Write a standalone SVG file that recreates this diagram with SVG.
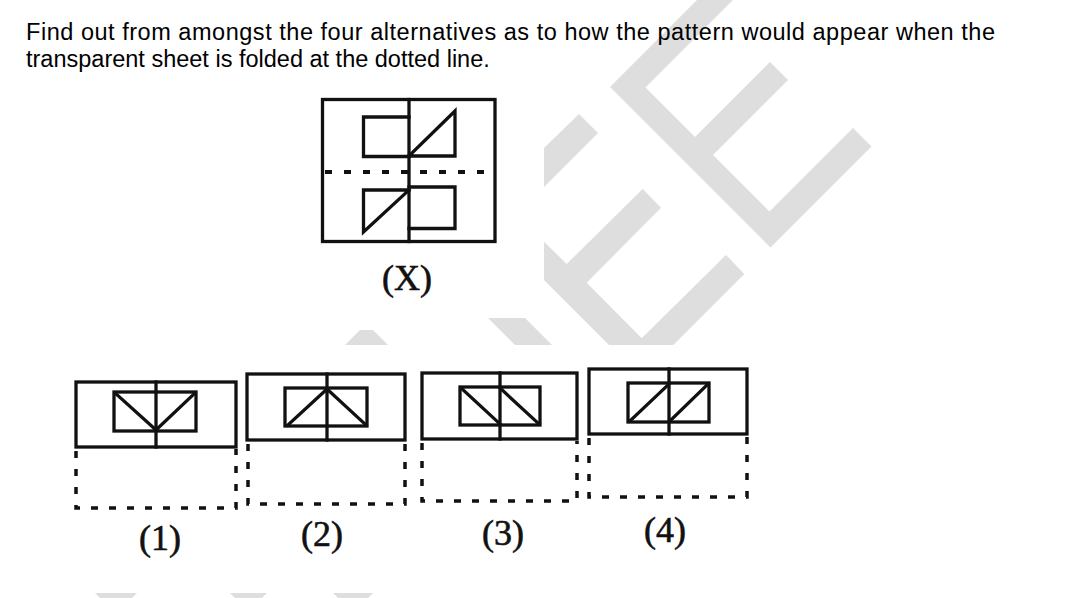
<svg xmlns="http://www.w3.org/2000/svg" width="1084" height="598" viewBox="0 0 1084 598">
  <style>
    .wm { fill: #dedede; stroke: none; }
    .ln { fill: none; stroke: #111; stroke-width: 3.3; stroke-linejoin: miter; stroke-linecap: square; }
    .dot { fill: none; stroke: #111; stroke-width: 3.5; stroke-dasharray: 7 11; }
    .dotx { fill: none; stroke: #111; stroke-width: 4; stroke-dasharray: 7 12; }
    .hdr { font-family: "Liberation Sans", Arial, sans-serif; font-size: 23.5px; fill: #000; }
    .lbl { font-family: "Liberation Serif", "Times New Roman", serif; font-size: 36px; fill: #111; stroke: #111; stroke-width: 0.6; text-anchor: middle; }
  </style>
  <rect x="0" y="0" width="1084" height="598" fill="#fff"/>

  <g id="watermark">
    <polygon class="wm" points="697,0 610,87 770.5,247.5 871.5,146.5 853,128 769.5,211.5 713,155 788,80 770,62 695,137 645.5,87.5 733,0"/>
    <polygon class="wm" points="544,148 579,114 598,133 544,187"/>
    <polygon class="wm" points="544,241.7 566.7,264 642.7,189 661,207.7 586.7,282.7 641.7,338.3 726,255 744.3,274 673.3,345 609,345 544,280"/>
    <polygon class="wm" points="488,318 525,318 552,345 515,345"/>
    <polygon class="wm" points="360,330 373,330 388,345 345,345"/>
    <polygon class="wm" points="95,593 137,593 132,598 100,598"/>
    <polygon class="wm" points="230,593 267,593 262,598 235,598"/>
    <polygon class="wm" points="333,593 373,593 368,598 338,598"/>
  </g>

  <g id="header">
    <text class="hdr" x="26" y="40" textLength="969" lengthAdjust="spacing">Find out from amongst the four alternatives as to how the pattern would appear when the</text>
    <text class="hdr" x="26" y="67">transparent sheet is folded at the dotted line.</text>
  </g>

  <g id="figure-x">
    <rect class="ln" x="322.5" y="99.5" width="172.5" height="142"/>
    <line class="ln" x1="409" y1="99.5" x2="409" y2="241.5"/>
    <line class="dotx" x1="325" y1="172" x2="494" y2="172"/>
    <path class="ln" d="M409,117 H363.5 V156.5 H409"/>
    <path class="ln" d="M409,156 L455,111 V156 H409"/>
    <path class="ln" d="M409,190 H363.5 V232 L409,190"/>
    <path class="ln" d="M409,187 H455 V228.5 H409"/>
    <text class="lbl" x="407" y="290">(X)</text>
  </g>

  <g id="option-1">
    <rect class="ln" x="76" y="382" width="160" height="65"/>
    <line class="ln" x1="156" y1="382" x2="156" y2="447"/>
    <rect class="ln" x="114" y="392" width="82" height="39"/>
    <path class="ln" d="M115,393 L156,430 L195,393"/>
    <path class="dot" d="M76,451 V508 H236 V449"/>
    <text class="lbl" x="160" y="550">(1)</text>
  </g>

  <g id="option-2">
    <rect class="ln" x="247" y="374" width="158" height="66"/>
    <line class="ln" x1="327" y1="374" x2="327" y2="440"/>
    <rect class="ln" x="285" y="388" width="82" height="38"/>
    <path class="ln" d="M288,425 L327,389 L366,425"/>
    <path class="dot" d="M248,444 V504 H405 V442"/>
    <text class="lbl" x="322" y="546">(2)</text>
  </g>

  <g id="option-3">
    <rect class="ln" x="422" y="373" width="155" height="66"/>
    <line class="ln" x1="500" y1="373" x2="500" y2="439"/>
    <rect class="ln" x="460" y="387" width="80" height="38"/>
    <line class="ln" x1="461" y1="388" x2="500" y2="424"/>
    <line class="ln" x1="500" y1="388" x2="539" y2="424"/>
    <path class="dot" d="M422,443 V501 H577 V441"/>
    <text class="lbl" x="503" y="545">(3)</text>
  </g>

  <g id="option-4">
    <rect class="ln" x="589" y="369" width="158" height="65"/>
    <line class="ln" x1="669" y1="369" x2="669" y2="434"/>
    <rect class="ln" x="628" y="383" width="81" height="39"/>
    <line class="ln" x1="630" y1="421" x2="669" y2="384"/>
    <line class="ln" x1="670" y1="421" x2="708" y2="384"/>
    <path class="dot" d="M589,438 V497 H747 V436"/>
    <text class="lbl" x="665" y="542">(4)</text>
  </g>
</svg>
